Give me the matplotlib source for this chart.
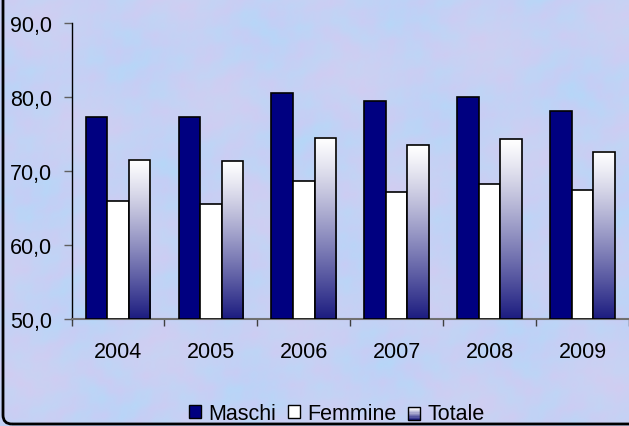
import numpy as np
import matplotlib
matplotlib.use("Agg")
import matplotlib.pyplot as plt
import matplotlib.patches as mpatches
from matplotlib.transforms import IdentityTransform
from matplotlib.legend_handler import HandlerBase
from matplotlib.ticker import FixedLocator, FuncFormatter

plt.rcParams['font.family'] = ['Liberation Sans', 'DejaVu Sans']

years = ['2004', '2005', '2006', '2007', '2008', '2009']
maschi = [77.3, 77.3, 80.5, 79.4, 80.0, 78.1]
femmine = [65.9, 65.5, 68.6, 67.2, 68.2, 67.4]
totale = [71.5, 71.3, 74.5, 73.5, 74.3, 72.6]
series_names = ['Maschi', 'Femmine', 'Totale']

NAVY = '#000080'
GRAD_TOP = np.array([1.0, 1.0, 1.0])
GRAD_BOT = np.array([0.11, 0.11, 0.50])
FS = 15.5


def grad_color(t):
    # t = 0 at top, 1 at bottom
    t = t ** 1.15
    return GRAD_TOP * (1 - t) + GRAD_BOT * t


class GradHandler(HandlerBase):
    def create_artists(self, legend, orig, xd, yd, w, h, fontsize, trans):
        arts = []
        n = 10
        for k in range(n):
            c = grad_color(k / (n - 1))
            arts.append(mpatches.Rectangle((xd, yd + h * (1 - (k + 1) / n)), w, h / n,
                                           facecolor=c, edgecolor='none', transform=trans))
        arts.append(mpatches.Rectangle((xd, yd), w, h, fill=False, edgecolor='black',
                                       lw=1, transform=trans))
        return arts


fig = plt.figure(figsize=(6.29, 4.27), dpi=100)

# mottled background (deterministic pattern)
H, W = 427, 629
yy, xx = np.mgrid[0:H, 0:W].astype(float)
f = (np.sin(xx / 7.3 + np.sin(yy / 11.0) * 2.1) + np.sin(yy / 5.9 + np.cos(xx / 13.0) * 1.7)
     + 0.6 * np.sin((xx + yy) / 3.1) * np.cos((xx - yy) / 4.3))
g = np.sin(xx / 37.0 + yy / 53.0) * np.cos(yy / 29.0 - xx / 61.0)
f = (f - f.min()) / (f.max() - f.min())
g = (g - g.min()) / (g.max() - g.min())
blue = np.array([182, 215, 248]) / 255
lav = np.array([198, 205, 245]) / 255
pink = np.array([226, 205, 236]) / 255
img = blue[None, None, :] * (1 - f[..., None]) + lav[None, None, :] * f[..., None]
img = img * (1 - 0.4 * g[..., None]) + pink[None, None, :] * 0.4 * g[..., None]
bg = fig.add_axes([0, 0, 1, 1], zorder=-10)
bg.imshow(img, aspect='auto', extent=[0, 1, 0, 1], interpolation='bilinear')
bg.axis('off')

# chart border (rounded corner bottom-left)
border = mpatches.FancyBboxPatch((3, 2), 800, 600, boxstyle="round,pad=0,rounding_size=9",
                                 transform=IdentityTransform(), fill=False,
                                 edgecolor='black', lw=2, zorder=5)
fig.patches.append(border)

ax = fig.add_axes([71.5 / 629, 107 / 427, 1 - 71.5 / 629, 296 / 427])
ax.patch.set_alpha(0)

x = np.arange(len(years)) + 0.5
w = 0.232
ax.bar(x - w, [v - 50 for v in maschi], w, bottom=50, color=NAVY, edgecolor='black', lw=1.2, zorder=3)
ax.bar(x, [v - 50 for v in femmine], w, bottom=50, color='white', edgecolor='black', lw=1.2, zorder=3)
ax.bar(x + w, [v - 50 for v in totale], w, bottom=50, color='none', edgecolor='black', lw=1.2, zorder=4)

grad = np.array([grad_color(t) for t in np.linspace(0, 1, 256)])[:, None, :]
for xi, v in zip(x, totale):
    ax.imshow(grad, extent=[xi + w / 2, xi + 3 * w / 2, 50, v], aspect='auto',
              interpolation='bilinear', zorder=3)

ax.set_xlim(0, len(years))
ax.set_ylim(50, 90)
ax.set_yticks([50, 60, 70, 80, 90])
ax.yaxis.set_major_formatter(FuncFormatter(lambda v, p: f"{v:.1f}".replace('.', ',')))
ax.xaxis.set_major_locator(FixedLocator(np.arange(len(years) + 1)))
ax.xaxis.set_minor_locator(FixedLocator(x))
ax.set_xticklabels([''] * (len(years) + 1))
ax.set_xticklabels(years, minor=True)
ax.tick_params(axis='x', which='minor', length=0, pad=16, labelsize=FS)
ax.tick_params(axis='x', which='major', length=5, color='#404040', width=1)
ax.tick_params(axis='y', length=6, color='#606060', width=1, pad=8, labelsize=FS)
for s in ['top', 'right']:
    ax.spines[s].set_visible(False)
ax.spines['left'].set_color('black')
ax.spines['left'].set_linewidth(1)
ax.spines['bottom'].set_color('#707070')
ax.spines['bottom'].set_linewidth(1.5)

handles = [mpatches.Patch(facecolor=NAVY, edgecolor='black', lw=1),
           mpatches.Patch(facecolor='white', edgecolor='black', lw=1),
           mpatches.Patch(facecolor='white', edgecolor='black', lw=1)]
leg = fig.legend(handles, series_names, loc='center', bbox_to_anchor=(337 / 629, 12.5 / 427),
                 ncol=3, frameon=False, fontsize=FS, handlelength=0.55, handleheight=0.55,
                 handletextpad=0.35, columnspacing=0.55, borderpad=0,
                 handler_map={handles[2]: GradHandler()})

fig.savefig('out.png', dpi=100)
